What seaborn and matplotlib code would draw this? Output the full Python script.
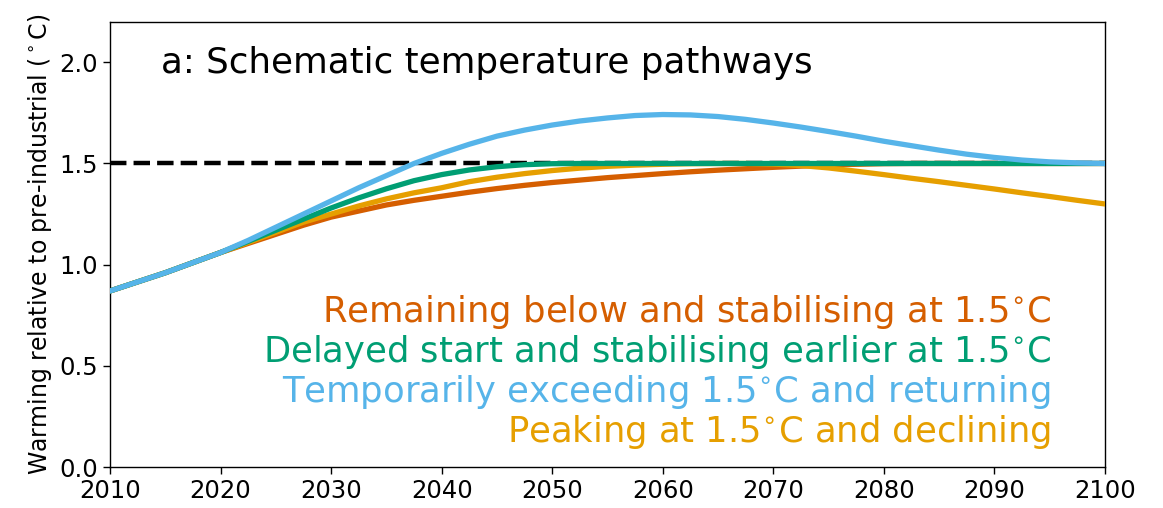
import matplotlib
matplotlib.use("Agg")
import matplotlib.pyplot as plt
import seaborn as sns
import pandas as pd

years = [2010 + 2.5 * i for i in range(37)]

remaining_below = [0.87, 0.915, 0.96, 1.01, 1.06, 1.105, 1.15, 1.195, 1.235, 1.265,
                   1.295, 1.318, 1.338, 1.358, 1.376, 1.392, 1.406, 1.418, 1.43, 1.44,
                   1.45, 1.459, 1.467, 1.474, 1.481, 1.487, 1.492, 1.496, 1.499, 1.50,
                   1.50, 1.50, 1.50, 1.50, 1.50, 1.50, 1.50]
delayed_start = [0.87, 0.915, 0.96, 1.01, 1.06, 1.115, 1.17, 1.225, 1.28, 1.33,
                 1.375, 1.415, 1.445, 1.468, 1.484, 1.494, 1.499, 1.50, 1.50, 1.50,
                 1.50, 1.50, 1.50, 1.50, 1.50, 1.50, 1.50, 1.50, 1.50, 1.50,
                 1.50, 1.50, 1.50, 1.50, 1.50, 1.50, 1.50]
overshoot = [0.87, 0.915, 0.96, 1.01, 1.06, 1.12, 1.185, 1.25, 1.315, 1.38,
             1.44, 1.50, 1.55, 1.595, 1.635, 1.665, 1.69, 1.71, 1.725, 1.737,
             1.742, 1.74, 1.732, 1.718, 1.70, 1.68, 1.658, 1.635, 1.61, 1.588,
             1.566, 1.546, 1.53, 1.517, 1.508, 1.503, 1.50]
peak_decline = [0.87, 0.915, 0.96, 1.01, 1.06, 1.11, 1.16, 1.21, 1.25, 1.29,
                1.325, 1.355, 1.38, 1.41, 1.432, 1.45, 1.465, 1.477, 1.486, 1.492,
                1.496, 1.499, 1.50, 1.50, 1.497, 1.49, 1.478, 1.462, 1.445, 1.427,
                1.41, 1.392, 1.374, 1.355, 1.337, 1.318, 1.30]

target_level = 1.5

labels = ["Remaining below and stabilising at 1.5$^{\\circ}$C",
          "Delayed start and stabilising earlier at 1.5$^{\\circ}$C",
          "Temporarily exceeding 1.5$^{\\circ}$C and returning",
          "Peaking at 1.5$^{\\circ}$C and declining"]
colors = ["#D55E00", "#009E73", "#56B4E9", "#E69F00"]

sns.set_style("ticks")
plt.rcParams["font.family"] = ["DejaVu Sans"]
plt.rcParams["text.color"] = "black"

fig = plt.figure(figsize=(11.63, 5.08), dpi=100)
ax = fig.add_axes([0.0946, 0.0807, 0.8554, 0.8763])

# 1.5 degree reference
ax.plot([years[0], years[-1]], [target_level, target_level], color="black",
        lw=3.2, ls="--", zorder=1)

series = [
    (remaining_below, colors[0], 2),
    (peak_decline, colors[3], 3),
    (delayed_start, colors[1], 4),
    (overshoot, colors[2], 5),
]
for vals, col, z in series:
    df = pd.DataFrame({"year": years, "warming": vals})
    sns.lineplot(data=df, x="year", y="warming", color=col, lw=3.8, ax=ax,
                 zorder=z)

ax.set_xlim(2010, 2100)
ax.set_ylim(0, 2.2)
ax.set_xticks(range(2010, 2101, 10))
ax.set_yticks([0.0, 0.5, 1.0, 1.5, 2.0])
ax.tick_params(labelsize=17.5, length=5, width=1, colors="black")
ax.set_xlabel("")
ax.set_ylabel("Warming relative to pre-industrial ($^\\circ$C)", fontsize=17,
              color="black")
for s in ax.spines.values():
    s.set_linewidth(1.0)
    s.set_color("black")

ax.text(0.051, 0.945, "a: Schematic temperature pathways", transform=ax.transAxes,
        fontsize=25.7, ha="left", va="top", color="black")

text_y = [0.348, 0.258, 0.169, 0.078]
for lab, col, ty in zip(labels, colors, text_y):
    ax.text(0.946, ty, lab, transform=ax.transAxes, fontsize=25.5, color=col,
            ha="right", va="center")

fig.savefig("out.png", dpi=100)
